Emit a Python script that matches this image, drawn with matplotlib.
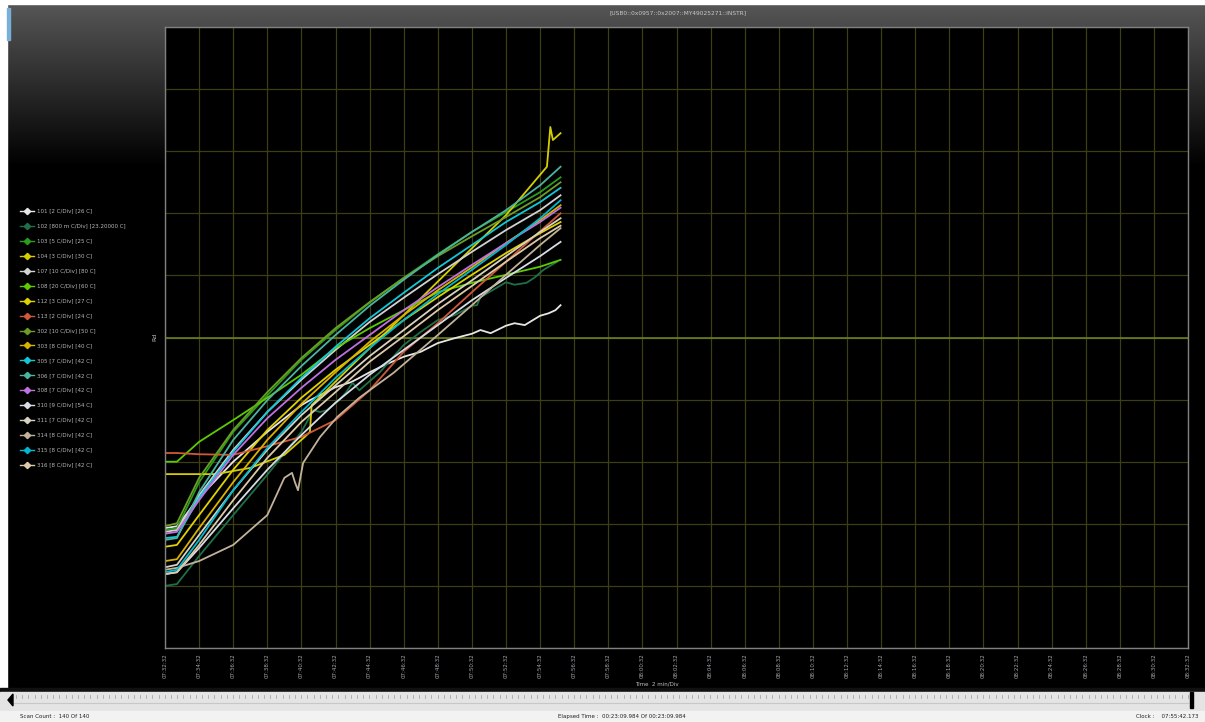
import numpy as np
import matplotlib.pyplot as plt
from matplotlib.patches import Rectangle, Polygon

W, H = 1205, 722

# channel labels: id [scale] [centre value]
channels = ["101 [2 C/Div] [26 C]", "102 [800 m C/Div] [23.20000 C]", "103 [5 C/Div] [25 C]",
            "104 [3 C/Div] [30 C]", "107 [10 C/Div] [80 C]", "108 [20 C/Div] [60 C]",
            "112 [3 C/Div] [27 C]", "113 [2 C/Div] [24 C]", "302 [10 C/Div] [50 C]",
            "303 [8 C/Div] [40 C]", "305 [7 C/Div] [42 C]", "306 [7 C/Div] [42 C]",
            "308 [7 C/Div] [42 C]", "310 [9 C/Div] [54 C]", "311 [7 C/Div] [42 C]",
            "314 [8 C/Div] [42 C]", "315 [8 C/Div] [42 C]", "316 [8 C/Div] [42 C]"]
colors = ["#e6e6e6", "#1f7048", "#2c9c1c", "#d6ce00", "#d2d2d2", "#5ccc00",
          "#e0d200", "#d05a38", "#6c9e26", "#d8b200", "#12c8d8", "#4ab4a0",
          "#c070e0", "#d8dce6", "#d8d2c0", "#c2b29a", "#00b8d0", "#dccaa8"]

# scan times (minutes since start) and readings in screen divisions (0 = bottom, 10 = top)
t_std = [0, 0.7, 2, 4, 6, 8, 10, 12, 14, 16, 18, 20, 22, 23.2]

t_101 = [0, 0.7, 2, 4, 6, 8, 8.5, 9, 10, 10.9, 11.4, 12, 12.9, 14, 15, 16, 17, 18, 18.5,
         19.1, 20, 20.5, 21.1, 22, 22.5, 22.9, 23.2]
y_101 = [1.93, 1.96, 2.42, 3.00, 3.48, 3.91, 3.99, 4.06, 4.20, 4.28, 4.35, 4.44, 4.56, 4.69,
         4.77, 4.91, 4.99, 5.06, 5.12, 5.07, 5.19, 5.23, 5.20, 5.35, 5.39, 5.44, 5.52]

t_102 = [0, 0.7, 2, 4, 6, 8, 8.7, 9.1, 9.5, 10.2, 10.6, 11, 11.4, 12.6, 14, 15, 16, 17, 18,
         18.3, 18.5, 19.2, 20, 20.5, 21.2, 21.7, 22.2, 23]
y_102 = [1.00, 1.03, 1.48, 2.14, 2.79, 3.48, 3.83, 3.80, 3.83, 3.99, 4.11, 4.27, 4.15, 4.44,
         4.88, 5.09, 5.28, 5.36, 5.51, 5.52, 5.65, 5.76, 5.89, 5.85, 5.88, 5.97, 6.09, 6.22]

y_103 = [1.90, 1.93, 2.67, 3.48, 4.07, 4.64, 5.12, 5.56, 5.96, 6.34, 6.70, 7.02, 7.34, 7.58]

t_104 = [0, 3.0, 5.0, 7.0, 8.2, 8.5, 8.6, 11.0, 14.0, 17.0, 20.0, 22.4, 22.6, 22.75, 23.2]
y_104 = [2.80, 2.80, 2.90, 3.11, 3.40, 3.48, 3.91, 4.56, 5.36, 6.17, 6.97, 7.75, 8.39, 8.18, 8.29]

y_107 = [1.87, 1.90, 2.46, 3.19, 3.80, 4.32, 4.80, 5.25, 5.64, 6.02, 6.38, 6.73, 7.05, 7.29]
y_108 = [3.00, 3.00, 3.32, 3.67, 4.03, 4.40, 4.83, 5.15, 5.44, 5.73, 5.88, 6.01, 6.14, 6.25]
y_112 = [1.63, 1.66, 2.14, 2.87, 3.51, 4.03, 4.48, 4.88, 5.28, 5.65, 6.01, 6.36, 6.68, 6.86]
y_113 = [3.14, 3.14, 3.12, 3.11, 3.25, 3.40, 3.67, 4.15, 4.77, 5.23, 5.73, 6.22, 6.71, 7.00]
y_302 = [1.96, 2.01, 2.74, 3.51, 4.12, 4.67, 5.15, 5.57, 5.96, 6.31, 6.63, 6.94, 7.26, 7.50]
y_303 = [1.40, 1.43, 1.93, 2.67, 3.35, 3.93, 4.44, 4.93, 5.36, 5.76, 6.13, 6.52, 6.89, 7.13]
y_305 = [1.77, 1.79, 2.42, 3.16, 3.80, 4.35, 4.85, 5.31, 5.72, 6.12, 6.49, 6.86, 7.18, 7.41]
y_306 = [1.74, 1.77, 2.51, 3.35, 3.99, 4.54, 5.04, 5.51, 5.93, 6.33, 6.70, 7.05, 7.45, 7.75]
y_308 = [1.84, 1.87, 2.38, 3.11, 3.70, 4.19, 4.64, 5.04, 5.44, 5.81, 6.17, 6.52, 6.86, 7.09]
y_310 = [1.19, 1.22, 1.61, 2.25, 2.87, 3.43, 3.95, 4.40, 4.80, 5.20, 5.60, 5.96, 6.31, 6.54]
y_311 = [1.30, 1.34, 1.82, 2.54, 3.19, 3.75, 4.23, 4.70, 5.12, 5.54, 5.92, 6.31, 6.70, 6.92]

t_314 = [0, 0.7, 2.0, 4.0, 6.0, 7.0, 7.45, 7.62, 7.8, 8.1, 9.1, 10.1, 11.4, 13.4, 16.0,
         18.0, 20.0, 22.0, 23.2]
y_314 = [1.26, 1.29, 1.40, 1.66, 2.14, 2.74, 2.82, 2.67, 2.54, 2.98, 3.40, 3.72, 4.03, 4.43,
         5.04, 5.52, 6.01, 6.49, 6.76]

y_315 = [1.22, 1.26, 1.74, 2.54, 3.22, 3.80, 4.35, 4.83, 5.28, 5.70, 6.09, 6.49, 6.92, 7.21]
y_316 = [1.19, 1.22, 1.66, 2.38, 3.06, 3.64, 4.12, 4.61, 5.02, 5.44, 5.83, 6.22, 6.60, 6.80]

series = [(t_101, y_101), (t_102, y_102), (t_std, y_103), (t_104, y_104), (t_std, y_107),
          (t_std, y_108), (t_std, y_112), (t_std, y_113), (t_std, y_302), (t_std, y_303),
          (t_std, y_305), (t_std, y_306), (t_std, y_308), (t_std, y_310), (t_std, y_311),
          (t_314, y_314), (t_std, y_315), (t_std, y_316)]

# time axis: 2 min/div starting at 07:32:32
start_s = 7 * 3600 + 32 * 60 + 32
tick_min = np.arange(0, 61, 2)
tick_labels = []
for m in tick_min:
    s = start_s + m * 60
    tick_labels.append("%02d:%02d:%02d" % (s // 3600, (s // 60) % 60, s % 60))

fig = plt.figure(figsize=(W / 100, H / 100), dpi=100)
fig.patch.set_facecolor("white")

# window background in pixel coordinates
bg = fig.add_axes([0, 0, 1, 1])
bg.set_xlim(0, W)
bg.set_ylim(H, 0)
bg.axis("off")
yy = np.arange(H)
shade = np.clip(0.345 - 0.00208 * yy, 0, 1)
img = np.repeat(shade[:, None], 3, axis=1)[:, None, :]
bg.imshow(img, extent=[0, W, H, 0], aspect="auto", interpolation="bilinear", zorder=0)
bg.add_patch(Rectangle((0, 0), 7, 690, color="white", zorder=1))
bg.add_patch(Rectangle((0, 0), W, 4, color="white", zorder=1))
bg.add_patch(Rectangle((7, 8), 3, 32, color="#7ab0d8", zorder=1))

# scroll bar and status line
bg.add_patch(Rectangle((0, 688), W, 4, color="#101010", zorder=1))
bg.add_patch(Rectangle((0, 692), W, 19, color="#e4e4e4", zorder=1))
bg.add_patch(Rectangle((0, 711), W, 11, color="#f2f2f2", zorder=1))
bg.plot([14, 1188], [703, 703], color="#c8c8c8", lw=0.8, zorder=2)
for xd in np.arange(16, 1188, 6.2):
    bg.plot([xd, xd], [695, 698], color="#9a9a9a", lw=0.5, zorder=2)
bg.add_patch(Polygon([[8, 700], [13, 694], [13, 706]], color="black", zorder=2))
bg.add_patch(Rectangle((1190, 692), 3, 16, color="black", zorder=2))
status_kw = dict(fontsize=4, color="#202020", va="center", zorder=3)
bg.text(20, 716.5, "Scan Count :  140 Of 140", ha="left", **status_kw)
bg.text(622, 716.5, "Elapsed Time :  00:23:09.984 Of 00:23:09.984", ha="center", **status_kw)
bg.text(1199, 716.5, "Clock :    07:55:42.173", ha="right", **status_kw)

bg.text(678, 12.5, "[USB0::0x0957::0x2007::MY49025271::INSTR]", fontsize=4.2,
        color="#c8c8c8", ha="center", va="center", zorder=3)
bg.text(657, 684, "Time  2 min/Div", fontsize=4, color="#c0c0c0",
        ha="center", va="center", zorder=3)
bg.text(155, 337, "Rd", fontsize=4.5, color="#c0c0c0", rotation=90,
        ha="center", va="center", zorder=3)

# channel list on the left
for i, (name, c) in enumerate(zip(channels, colors)):
    ly = 211 + i * 14.94
    bg.plot([20, 34], [ly, ly], color=c, lw=1.0, zorder=3)
    bg.plot([27], [ly], marker="D", ms=3.2, color=c, zorder=3)
    bg.text(37, ly, name, fontsize=4, color="#b8b8b8", ha="left", va="center", zorder=3)

# trend chart
ax = fig.add_axes([165 / W, (H - 648) / H, (1188 - 165) / W, (648 - 27) / H])
ax.set_facecolor("black")
ax.set_xlim(0, 60)
ax.set_ylim(0, 10)
ax.set_xticks(tick_min)
ax.set_xticklabels(tick_labels, rotation=90)
ax.set_yticks(np.arange(0, 11))
ax.set_yticklabels([])
ax.tick_params(axis="x", length=0, pad=4, labelsize=4, labelcolor="#a8a8b0")
ax.tick_params(axis="y", length=0)
ax.grid(True, color="#3e3e14", lw=0.9)
ax.axhline(5, color="#74861c", lw=1.1)
for sp in ax.spines.values():
    sp.set_color("#808080")
    sp.set_linewidth(1.0)

for (t, y), c in zip(series, colors):
    ax.plot(t, y, color=c, lw=1.3)

fig.savefig("out.png", dpi=100, facecolor=fig.get_facecolor())
